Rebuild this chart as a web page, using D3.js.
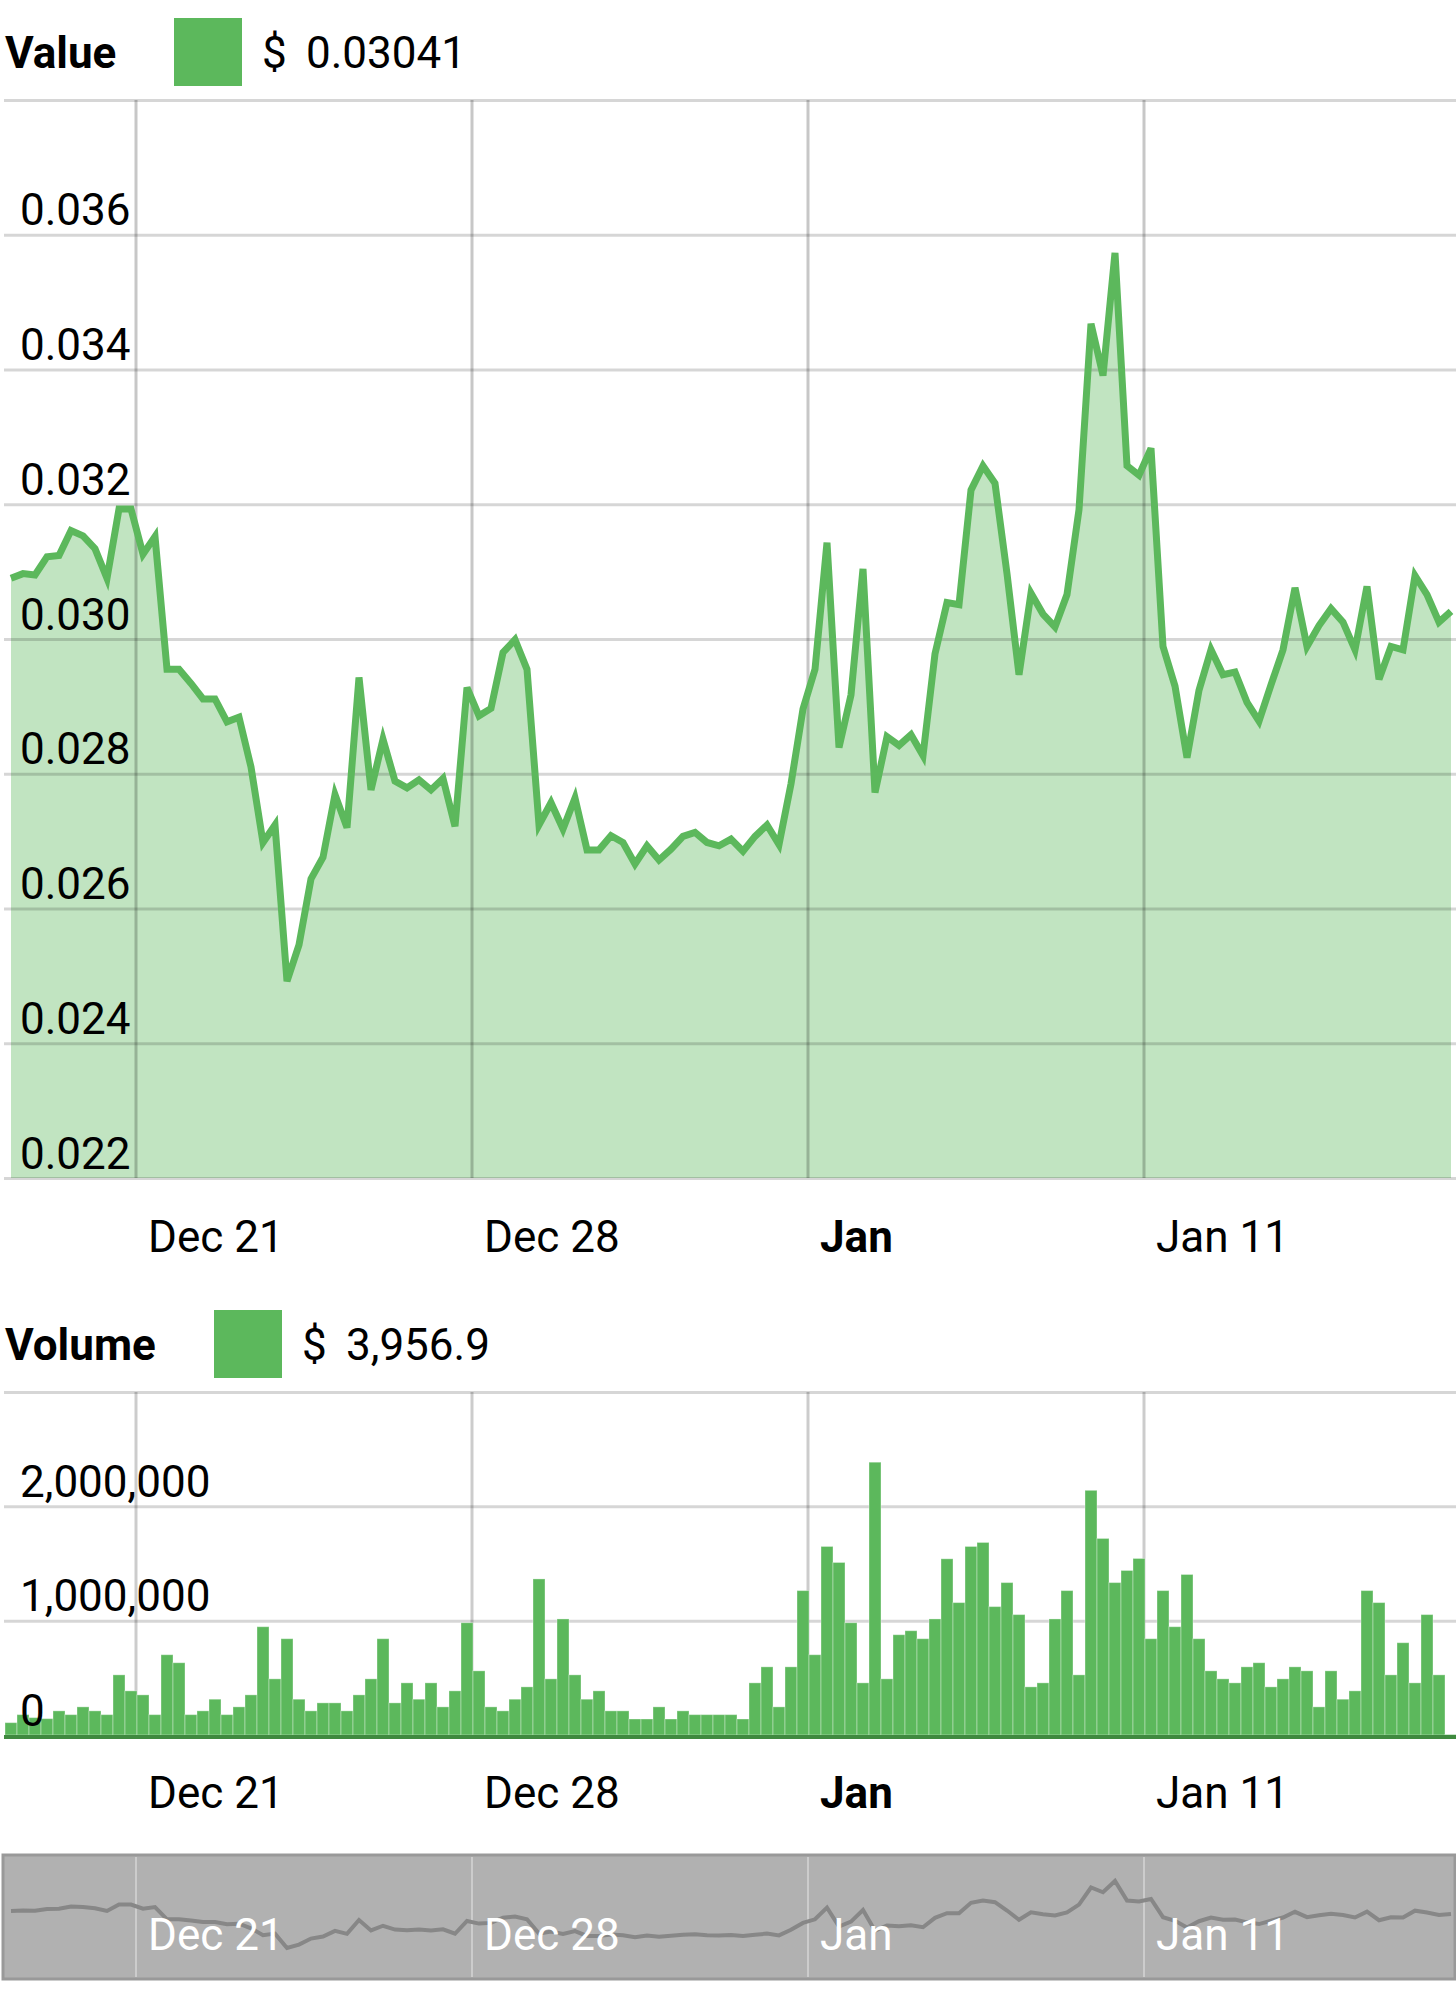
<!DOCTYPE html>
<html><head><meta charset="utf-8">
<script src="https://cdn.jsdelivr.net/npm/d3@7/dist/d3.min.js"></script>
<style>
html,body{margin:0;padding:0;background:#fff;}
svg{display:block;font-family:Roboto,"Noto Sans",sans-serif;}
</style></head><body>
<svg id="chart" width="1456" height="2000"></svg>
<script>
// ---------------- DATA ----------------
const startTime = new Date(2020, 11, 18, 9, 30); // first sample
const stepHours = 6;                              // sampling interval

const values = [
  0.03090,0.03097,0.03095,0.03122,0.03124,0.03161,0.03153,0.03134,0.03090,0.03193,
  0.03193,0.03126,0.03152,0.02955,0.02955,0.02934,0.02911,0.02911,0.02877,0.02884,
  0.02810,0.02698,0.02724,0.02492,0.02546,0.02644,0.02676,0.02769,0.02720,0.02943,
  0.02776,0.02851,0.02789,0.02779,0.02791,0.02776,0.02793,0.02722,0.02928,0.02886,
  0.02897,0.02980,0.02999,0.02955,0.02724,0.02757,0.02718,0.02764,0.02687,0.02687,
  0.02708,0.02698,0.02666,0.02693,0.02672,0.02688,0.02707,0.02713,0.02698,0.02693,
  0.02703,0.02685,0.02707,0.02724,0.02695,0.02785,0.02896,0.02955,0.03143,0.02839,
  0.02917,0.03104,0.02772,0.02855,0.02842,0.02858,0.02827,0.02978,0.03054,0.03051,
  0.03221,0.03257,0.03231,0.03097,0.02947,0.03068,0.03037,0.03018,0.03066,0.03192,
  0.03468,0.03391,0.03573,0.03257,0.03243,0.03283,0.02989,0.02930,0.02824,0.02924,
  0.02984,0.02947,0.02951,0.02906,0.02878,0.02932,0.02984,0.03076,0.02989,0.03020,
  0.03045,0.03025,0.02984,0.03078,0.02940,0.02989,0.02984,0.03094,0.03066,0.03025,
  0.03041
];

const volumes = [
  108000,178000,152000,143000,211000,178000,246000,211000,178000,526000,
  386000,351000,178000,702000,632000,178000,211000,313000,178000,246000,
  351000,947000,491000,842000,313000,211000,281000,281000,211000,351000,
  491000,842000,281000,456000,313000,456000,246000,386000,982000,561000,
  246000,211000,313000,421000,1365000,491000,1015000,526000,313000,386000,
  211000,211000,140000,140000,246000,140000,211000,178000,178000,178000,
  178000,140000,456000,596000,246000,596000,1263000,702000,1649000,1509000,
  982000,456000,2386000,491000,877000,912000,842000,1015000,1541000,1158000,
  1649000,1684000,1123000,1333000,1053000,421000,456000,1015000,1263000,526000,
  2140000,1719000,1333000,1439000,1544000,842000,1263000,947000,1404000,842000,
  561000,491000,456000,596000,632000,421000,491000,596000,561000,246000,
  561000,313000,386000,1263000,1158000,526000,807000,456000,1053000,526000,
  3956.9
];

const valueTicks  = [0.022,0.024,0.026,0.028,0.030,0.032,0.034,0.036,0.038];
const volumeTicks = [0,1000000,2000000,3000000];
const valueTitle = "Value", volumeTitle = "Volume";
const valueLegend = "0.03041", volumeLegend = "3,956.9";

// ---------------- SETUP ----------------
const GREEN = "#5cb85c";
const svg = d3.select("#chart");
const dates = values.map((_, i) => new Date(startTime.getTime() + i * stepHours * 3600e3));
const data = dates.map((d, i) => ({date: d, v: values[i], vol: volumes[i]}));

const x = d3.scaleTime().domain(d3.extent(dates)).range([11, 1451]);
const weekTicks = x.ticks(d3.timeMonday.every(1));
const fmtDay = d3.timeFormat("%b %-d"), fmtMon = d3.timeFormat("%b");
function tickLabel(t, i) {
  const isMonth = i > 0 && weekTicks[i - 1].getMonth() !== t.getMonth();
  return {text: isMonth ? fmtMon(t) : fmtDay(t), bold: isMonth};
}
const PLOT_L = 4, PLOT_R = 1456;
const TICK_FS = 44;

function legend(yBase, title, squareX, dollarX, valX, label) {
  svg.append("text").attr("x", 5).attr("y", yBase).attr("font-size", 44)
    .attr("font-weight", 700).attr("fill", "#000").text(title);
  svg.append("rect").attr("x", squareX).attr("y", yBase - 50).attr("width", 68).attr("height", 68)
    .attr("fill", GREEN);
  svg.append("text").attr("x", dollarX).attr("y", yBase).attr("font-size", 44).attr("fill", "#000").text("$");
  svg.append("text").attr("x", valX).attr("y", yBase).attr("font-size", 44).attr("fill", "#000").text(label);
}

function xLabels(y, color, boldMonth) {
  svg.append("g").selectAll("text").data(weekTicks).join("text")
    .attr("x", d => x(d) + 12).attr("y", y).attr("font-size", TICK_FS).attr("fill", color)
    .attr("font-weight", (d, i) => (boldMonth && tickLabel(d, i).bold) ? 700 : 400)
    .text((d, i) => tickLabel(d, i).text);
}

// ---------------- VALUE CHART ----------------
legend(68, valueTitle, 174, 262, 306, valueLegend);
const yV = d3.scaleLinear().domain([0.022, 0.038]).range([1178, 100]);

svg.append("path").datum(data)
  .attr("d", d3.area().x(d => x(d.date)).y0(yV(0.022)).y1(d => yV(d.v)))
  .attr("fill", GREEN).attr("fill-opacity", 0.38);

const axV = svg.append("g").attr("transform", `translate(${PLOT_L},0)`)
  .call(d3.axisRight(yV).tickValues(valueTicks).tickSize(PLOT_R - PLOT_L)
    .tickFormat(d => d >= 0.0375 ? "" : d3.format(".3f")(d)));
axV.select(".domain").remove();
axV.selectAll("line").attr("stroke", "#000").attr("stroke-opacity", 0.16).attr("stroke-width", 3);
axV.selectAll("text").attr("x", 16).attr("dy", null).attr("y", -10)
  .attr("font-size", TICK_FS).attr("fill", "#000").attr("font-family", "Roboto");

svg.append("g").selectAll("line").data(weekTicks).join("line")
  .attr("x1", d => x(d)).attr("x2", d => x(d)).attr("y1", yV(0.038)).attr("y2", yV(0.022))
  .attr("stroke", "#000").attr("stroke-opacity", 0.22).attr("stroke-width", 3);

svg.append("path").datum(data)
  .attr("d", d3.line().x(d => x(d.date)).y(d => yV(d.v)))
  .attr("fill", "none").attr("stroke", GREEN).attr("stroke-width", 7);

xLabels(1252, "#000", true);

// ---------------- VOLUME CHART ----------------
legend(1360, volumeTitle, 214, 302, 346, volumeLegend);
const yB = d3.scaleLinear().domain([0, 3000000]).range([1735, 1392]);

const gridB = svg.append("g").attr("transform", `translate(${PLOT_L},0)`)
  .call(d3.axisRight(yB).tickValues(volumeTicks.slice(1)).tickSize(PLOT_R - PLOT_L).tickFormat(""));
gridB.select(".domain").remove();
gridB.selectAll("line").attr("stroke", "#000").attr("stroke-opacity", 0.16).attr("stroke-width", 3);

svg.append("g").selectAll("line").data(weekTicks).join("line")
  .attr("x1", d => x(d)).attr("x2", d => x(d)).attr("y1", yB(3000000)).attr("y2", yB(0))
  .attr("stroke", "#000").attr("stroke-opacity", 0.2).attr("stroke-width", 3);

const bw = x(dates[1]) - x(dates[0]);
svg.append("g").selectAll("rect").data(data).join("rect")
  .attr("x", d => x(d.date) - bw / 2).attr("width", bw)
  .attr("y", d => yB(d.vol)).attr("height", d => yB(0) - yB(d.vol))
  .attr("fill", GREEN).attr("stroke", "rgba(255,255,255,0.35)").attr("stroke-width", 1);

svg.append("line").attr("x1", PLOT_L).attr("x2", PLOT_R).attr("y1", yB(0) + 2).attr("y2", yB(0) + 2)
  .attr("stroke", "#3f8a3f").attr("stroke-width", 4);

const labB = svg.append("g").attr("transform", `translate(${PLOT_L},0)`)
  .call(d3.axisRight(yB).tickValues(volumeTicks).tickSize(0)
    .tickFormat(d => d >= 3000000 ? "" : d3.format(",")(d)));
labB.select(".domain").remove();
labB.selectAll("line").remove();
labB.selectAll("text").attr("x", 16).attr("dy", null).attr("y", -10)
  .attr("font-size", TICK_FS).attr("fill", "#000").attr("font-family", "Roboto");

xLabels(1808, "#000", true);

// ---------------- NAVIGATOR ----------------
svg.append("rect").attr("x", 3).attr("y", 1855).attr("width", 1452).attr("height", 124)
  .attr("fill", "#b1b1b1").attr("stroke", "#999").attr("stroke-width", 3);
svg.append("g").selectAll("line").data(weekTicks).join("line")
  .attr("x1", d => x(d)).attr("x2", d => x(d)).attr("y1", 1857).attr("y2", 1977)
  .attr("stroke", "#fff").attr("stroke-opacity", 0.35).attr("stroke-width", 2);
const yN = d3.scaleLinear().domain(d3.extent(values)).range([1948, 1881]);
svg.append("path").datum(data)
  .attr("d", d3.line().x(d => x(d.date)).y(d => yN(d.v)))
  .attr("fill", "none").attr("stroke", "#878787").attr("stroke-width", 4);
xLabels(1950, "#fff", false);
</script>
</body></html>
